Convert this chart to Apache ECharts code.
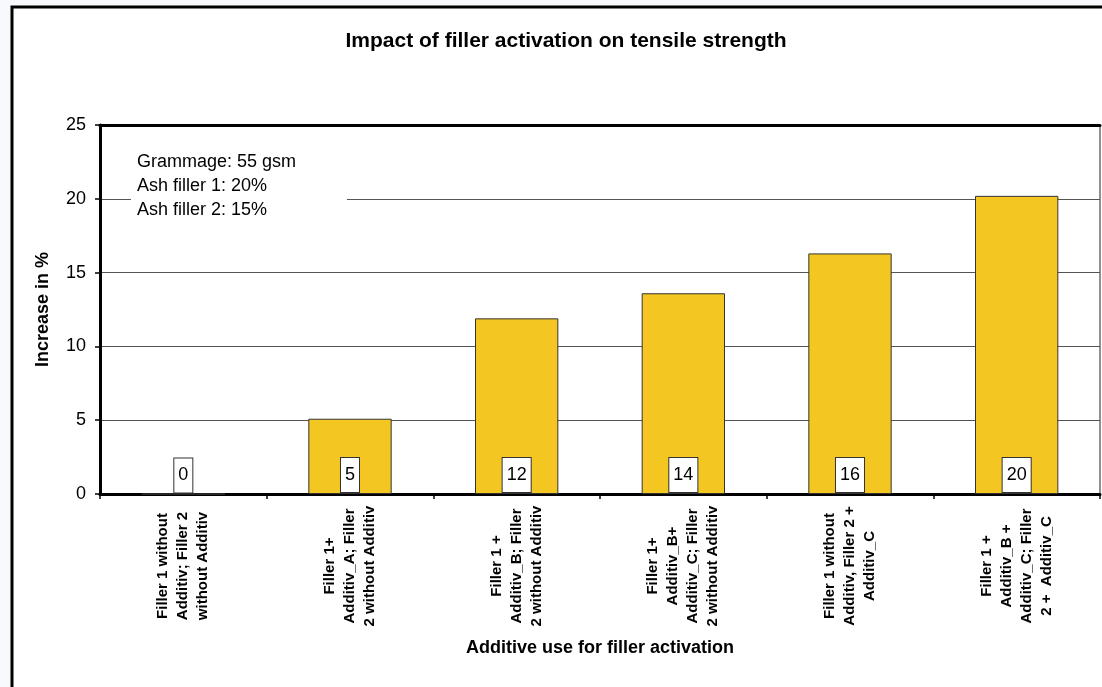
<!DOCTYPE html>
<html>
<head>
<meta charset="utf-8">
<script src="https://cdn.jsdelivr.net/npm/echarts@6/dist/echarts.min.js"></script>
<style>
html,body{margin:0;padding:0;background:#f8f9fc;}
#c{width:1102px;height:687px;}
</style>
</head>
<body>
<div id="c"></div>
<script>
var titleText = 'Impact of filler activation on tensile strength';
var categories = [
  'Filler 1 without\nAdditiv; Filler 2\nwithout Additiv',
  'Filler 1+\nAdditiv_A; Filler\n2 without Additiv',
  'Filler 1 +\nAdditiv_B; Filler\n2 without Additiv',
  'Filler 1+\nAdditiv_B+\nAdditiv_C; Filler\n2 without Additiv',
  'Filler 1 without\nAdditiv, Filler 2 +\nAdditiv_C',
  'Filler 1 +\nAdditiv_B +\nAdditiv_C; Filler\n2 +  Additiv_C'
];
var values = [0, 5.1, 11.9, 13.6, 16.3, 20.2];
var valueLabels = ['0', '5', '12', '14', '16', '20'];
var yTicks = [0, 5, 10, 15, 20, 25];
var noteLines = ['Grammage: 55 gsm', 'Ash filler 1: 20%', 'Ash filler 2: 15%'];
var yName = 'Increase in %';
var xName = 'Additive use for filler activation';

var FONT = 'Arial, "Liberation Sans", sans-serif';
var chart = echarts.init(document.getElementById('c'), null, {renderer: 'canvas'});
chart.setOption({
  backgroundColor: 'transparent',
  animation: false,
  graphic: [
    {type: 'rect', z: -10, silent: true, shape: {x: 12, y: 7, width: 1200, height: 800},
     style: {fill: '#ffffff', stroke: '#000000', lineWidth: 3}},
    {type: 'text', z: 10, x: 566, y: 41,
     style: {text: titleText, font: 'bold 21px ' + FONT, fill: '#000', textAlign: 'center', textVerticalAlign: 'middle'}},
    {type: 'rect', z: 10, silent: true, shape: {x: 131, y: 146, width: 216, height: 76},
     style: {fill: '#ffffff'}},
    {type: 'text', z: 11, x: 137, y: 150,
     style: {text: noteLines.join('\n'), font: '18px ' + FONT, fill: '#000', lineHeight: 24, textAlign: 'left', textVerticalAlign: 'top'}}
  ],
  grid: {left: 100, top: 125, width: 1000, height: 369, show: true, borderColor: '#222', borderWidth: 1, backgroundColor: 'transparent'},
  xAxis: [{
    type: 'category',
    data: categories,
    name: xName,
    nameLocation: 'middle',
    nameGap: 154,
    nameTextStyle: {fontSize: 18, fontWeight: 'bold', color: '#000', fontFamily: FONT, verticalAlign: 'middle'},
    axisLine: {show: true, lineStyle: {color: '#000', width: 3}},
    axisTick: {show: true, length: 5, lineStyle: {color: '#000', width: 1.5}},
    axisLabel: {interval: 0, rotate: 90, fontSize: 15, fontWeight: 'bold', color: '#000', fontFamily: FONT,
                lineHeight: 20, align: 'center', verticalAlign: 'middle', margin: 72}
  }, {
    type: 'category',
    data: categories,
    position: 'top',
    axisLine: {show: true, lineStyle: {color: '#000', width: 3}},
    axisTick: {show: false},
    axisLabel: {show: false}
  }],
  yAxis: {
    type: 'value',
    min: 0, max: 25, interval: 5,
    name: yName,
    nameLocation: 'middle',
    nameGap: 57,
    nameRotate: 90,
    nameTextStyle: {fontSize: 18, fontWeight: 'bold', color: '#000', fontFamily: FONT, verticalAlign: 'middle'},
    axisLine: {show: true, lineStyle: {color: '#000', width: 3}},
    axisTick: {show: true, length: 5, lineStyle: {color: '#000', width: 1.5}},
    axisLabel: {fontSize: 18, color: '#000', fontFamily: FONT, margin: 14,
                formatter: function (v) { return yTicks.indexOf(v) >= 0 ? String(v) : ''; }},
    splitLine: {show: true, lineStyle: {color: '#555', width: 1}}
  },
  series: [{
    type: 'bar',
    data: values,
    barWidth: '50%',
    itemStyle: {color: '#F3C622', borderColor: '#333', borderWidth: 1},
    label: {
      show: true,
      position: 'insideBottom',
      distance: 2,
      formatter: function (p) { return valueLabels[p.dataIndex]; },
      fontSize: 18, color: '#000', fontFamily: FONT, lineHeight: 18,
      backgroundColor: '#fff', borderColor: '#333', borderWidth: 1,
      padding: [8, 4, 8, 4]
    }
  }]
});
</script>
</body>
</html>
